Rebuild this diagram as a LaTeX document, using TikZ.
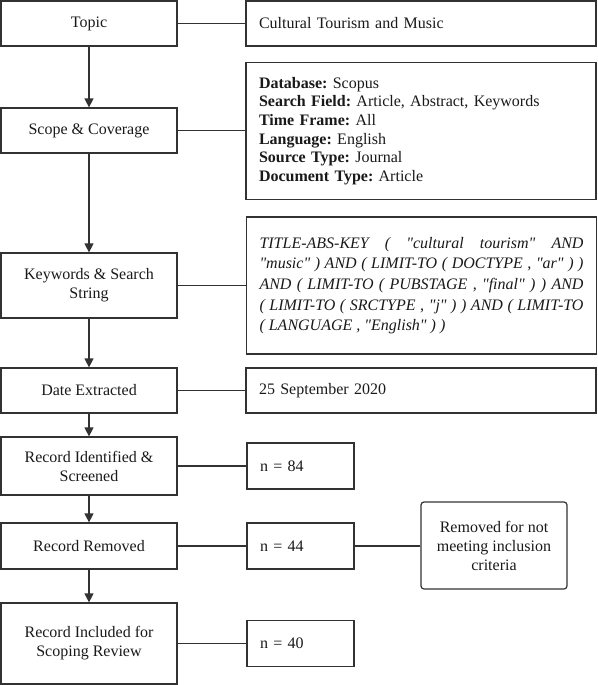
\documentclass[tikz,border=0pt]{standalone}
\usepackage{fontspec}
\setmainfont{Liberation Serif}[Ligatures=TeXOff]
\usetikzlibrary{arrows.meta}
\definecolor{edge}{RGB}{50,50,50}
\definecolor{ink}{RGB}{25,25,25}
\frenchspacing
\begin{document}
\begin{tikzpicture}[x=1pt,y=-1pt,
  box/.style={draw=edge, line width=1.2pt, inner sep=0pt, text=ink,
    font=\fontsize{16}{19}\selectfont},
  lbox/.style={box, minimum width=176pt, align=center},
  rbox/.style={box, minimum width=350pt, text width=324pt, inner xsep=13pt, align=left},
  nbox/.style={box, minimum width=107pt, text width=81pt, inner xsep=13pt, align=left, minimum height=46pt},
  conn/.style={draw=edge, line width=1.2pt},
  arr/.style={conn, -{Triangle[length=9pt,width=9pt]}}
]
\useasboundingbox (0,0) rectangle (597,685);

\node[lbox, minimum height=45pt] (topic) at (89,23.5) {Topic};
\node[rbox, minimum height=45pt] (topicR) at (421,23.5) {Cultural Tourism and Music};

\node[lbox, minimum height=45pt] (scope) at (89,130.5) {Scope \& Coverage};
\node[rbox, minimum height=136.6pt, font=\fontsize{16}{18.67}\selectfont] (scopeR) at (421,131)
  {\textbf{Database:} Scopus\\
   \textbf{Search Field:} Article, Abstract, Keywords\\
   \textbf{Time Frame:} All\\
   \textbf{Language:} English\\
   \textbf{Source Type:} Journal\\
   \textbf{Document Type:} Article};

\node[lbox, minimum height=65pt] (kw) at (89,285.5) {Keywords \& Search\\String};
\node[rbox, minimum height=137pt, align=justify, font=\itshape\fontsize{16}{20.65}\selectfont] (kwR) at (421.5,285.5)
  {\hyphenpenalty=10000 TITLE-ABS-KEY ( "cultural tourism" AND \linebreak
   "music" ) AND ( LIMIT-TO ( DOCTYPE , "ar" ) ) \linebreak
   AND ( LIMIT-TO ( PUBSTAGE , "final" ) ) AND \linebreak
   ( LIMIT-TO ( SRCTYPE , "j" ) ) AND ( LIMIT-TO \linebreak
   ( LANGUAGE , "English" ) )\par};

\node[lbox, minimum height=45pt] (date) at (89,390.5) {Date Extracted};
\node[rbox, minimum height=45pt] (dateR) at (421,390.5) {25 September 2020};

\node[lbox, minimum height=58pt] (ident) at (89,466) {Record Identified \&\\Screened};
\node[nbox] (n84) at (300.5,466) {n = 84};

\node[lbox, minimum height=46pt] (removed) at (89,546) {Record Removed};
\node[nbox] (n44) at (300.5,546) {n = 44};
\node[box, rounded corners=3pt, minimum width=146pt, minimum height=87pt, align=center] (note) at (494,545.5)
  {Removed for not\\meeting inclusion\\criteria};

\node[lbox, minimum height=81pt] (incl) at (89,643.5) {Record Included for\\Scoping Review};
\node[nbox] (n40) at (300.5,643.5) {n = 40};

% horizontal connectors
\draw[conn] (topic.east) -- (topic.east -| topicR.west);
\draw[conn] (scope.east) -- (scope.east -| scopeR.west);
\draw[conn] (kw.east) -- (kw.east -| kwR.west);
\draw[conn] (date.east) -- (date.east -| dateR.west);
\draw[conn] (ident.east) -- (ident.east -| n84.west);
\draw[conn] (removed.east) -- (removed.east -| n44.west);
\draw[conn] (n44.east) -- (n44.east -| note.west);
\draw[conn] (incl.east) -- (incl.east -| n40.west);

% vertical arrows
\draw[arr] (topic) -- (scope);
\draw[arr] (scope) -- (kw);
\draw[arr] (kw) -- (date);
\draw[arr] (date) -- (ident);
\draw[arr] (ident) -- (removed);
\draw[arr] (removed) -- (incl);
\end{tikzpicture}
\end{document}
